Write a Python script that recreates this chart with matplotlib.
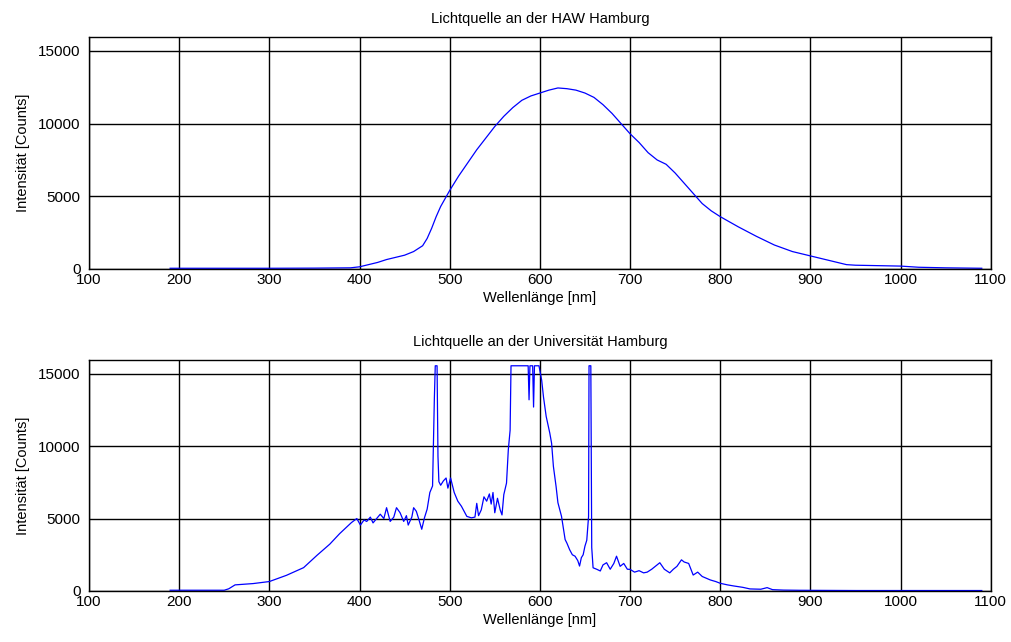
import matplotlib
matplotlib.use("Agg")
import matplotlib.pyplot as plt

plt.rcParams['font.family'] = ['Liberation Sans', 'DejaVu Sans']

# Lichtquelle HAW Hamburg
haw_nm = [190, 250, 300, 350, 390, 400, 410, 420, 430, 440, 450, 460, 470, 475,
          480, 485, 490, 500, 510, 520, 530, 540, 550, 560, 570, 580, 590, 600,
          610, 620, 630, 640, 650, 660, 670, 680, 690, 700, 710, 720, 730, 740,
          750, 760, 770, 780, 790, 800, 820, 840, 860, 880, 900, 920, 940, 950,
          1000, 1020, 1050, 1090]
haw_counts = [50, 50, 50, 60, 80, 150, 300, 450, 650, 800, 950, 1200, 1600, 2100,
              2800, 3600, 4300, 5400, 6400, 7300, 8200, 9000, 9800, 10500, 11100, 11600, 11900, 12100,
              12300, 12450, 12400, 12300, 12100, 11800, 11300, 10700, 10000, 9300, 8700, 8000, 7500, 7200,
              6600, 5900, 5200, 4500, 4000, 3600, 2900, 2250, 1650, 1200, 900, 600, 300, 260,
              200, 120, 80, 50]

# Lichtquelle Universitaet Hamburg (saturates at ~15550)
uni_nm = [190, 250, 255, 262, 282, 300, 319, 338, 353, 367, 378, 391, 397, 401,
          405, 408, 412, 415, 419, 423, 427, 430, 434, 438, 441, 445, 449, 452,
          454, 458, 460, 463, 466, 469, 472, 475, 478, 481, 483, 484, 486, 487,
          488, 490, 493, 496, 498, 501, 505, 509, 513, 516, 519, 524, 528, 530,
          532, 535, 538, 541, 544, 546, 548, 550, 553, 556, 558, 560, 563, 565,
          567, 568, 587, 588, 589, 591, 592, 593, 594, 595, 599, 602, 604, 607,
          611, 613, 615, 618, 620, 624, 628, 630, 633, 636, 639, 642, 644, 646,
          648, 650, 652, 654, 654.5, 656.5, 657.5, 659, 663, 667, 670, 674, 678,
          682, 685, 689, 693, 697, 700, 705, 710, 715, 719, 724, 728, 733, 738,
          744, 748, 752, 757, 760, 765, 770, 775, 780, 789, 795, 800, 808, 815,
          825, 833, 845, 852, 858, 870, 888, 950, 1000, 1050, 1090]
uni_counts = [50, 50, 150, 420, 510, 650, 1080, 1610, 2470, 3230, 3960, 4720, 5000, 4550,
              4900, 4800, 5100, 4700, 5000, 5300, 5000, 5750, 4800, 5100, 5750, 5400, 4800, 5200,
              4550, 5100, 5750, 5500, 4900, 4260, 5050, 5650, 6800, 7250, 13300, 15550, 15550, 9300,
              7550, 7300, 7600, 7800, 7100, 7800, 6800, 6200, 5850, 5500, 5150, 5050, 5100, 6050,
              5200, 5600, 6500, 6200, 6700, 6000, 6800, 5400, 6400, 5600, 5250, 6650, 7450, 9750,
              11100, 15550, 15550, 13200, 15550, 15550, 15550, 12700, 15550, 15550, 15550, 14550, 13400, 12050,
              10900, 10200, 8600, 7200, 6100, 5150, 3550, 3300, 2850, 2500, 2400, 2100, 1720, 2300,
              2500, 3100, 3500, 5150, 15550, 15550, 3000, 1600, 1500, 1380, 1800, 1950, 1500,
              1900, 2400, 1700, 1900, 1500, 1490, 1300, 1400, 1250, 1300, 1500, 1700, 1950, 1500,
              1250, 1500, 1700, 2150, 2000, 1900, 1100, 1300, 1000, 760, 650, 530, 420, 345,
              250, 140, 120, 230, 90, 60, 46, 30, 30, 30, 30]

x_ticks = [100, 200, 300, 400, 500, 600, 700, 800, 900, 1000, 1100]
y_ticks = [0, 5000, 10000, 15000]

fig = plt.figure(figsize=(10.11, 6.42), dpi=100)
ax1 = fig.add_axes([0.088, 0.581, 0.892, 0.3615])
ax2 = fig.add_axes([0.088, 0.0795, 0.892, 0.3600])

panels = [(ax1, haw_nm, haw_counts, "Lichtquelle an der HAW Hamburg"),
          (ax2, uni_nm, uni_counts, "Lichtquelle an der Universität Hamburg")]

for ax, x, y, title in panels:
    ax.plot(x, y, color='#0000ff', lw=0.9)
    ax.set_xlim(100, 1100)
    ax.set_ylim(0, 15960)
    ax.set_xticks(x_ticks)
    ax.set_yticks(y_ticks)
    ax.grid(True, color='black', lw=1.0)
    ax.set_axisbelow(True)
    ax.tick_params(length=0, labelsize=11)
    ax.tick_params(axis='x', pad=3)
    ax.tick_params(axis='y', pad=6)
    for s in ax.spines.values():
        s.set_color('black')
        s.set_linewidth(1.0)
    ax.set_title(title, fontsize=10.5, pad=10)
    ax.set_xlabel("Wellenlänge [nm]", fontsize=10.5, labelpad=3)
    ax.set_ylabel("Intensität [Counts]", fontsize=10.5, labelpad=6)

fig.savefig("out.png", dpi=100)
